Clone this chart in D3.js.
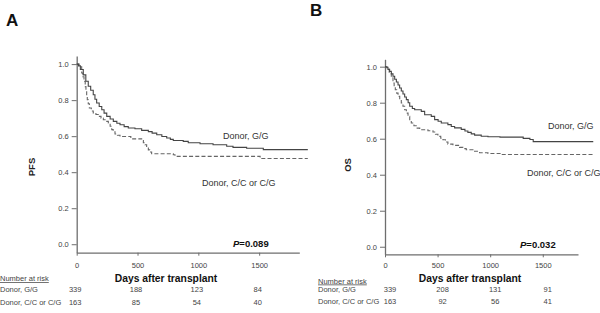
<!DOCTYPE html>
<html>
<head>
<meta charset="utf-8">
<script src="https://cdn.jsdelivr.net/npm/d3@7"></script>
<style>
  html, body { margin: 0; padding: 0; background: #fff; }
  svg { display: block; font-family: "Liberation Sans", Arial, sans-serif; }
</style>
</head>
<body>
<svg id="chart" width="600" height="313"></svg>
<script>
// ---- data (days after transplant, survival probability) ----
const xTicks = [0, 500, 1000, 1500];
const yTicks = [0, 0.2, 0.4, 0.6, 0.8, 1.0];
const groupLabels = ["Donor, G/G", "Donor, C/C or C/G"];

const pfsGG = [[0,1.0],[15,0.99],[30,0.97],[54,0.94],[75,0.905],[95,0.877],[115,0.855],[136,0.83],[150,0.805],[164,0.784],[185,0.765],[206,0.747],[225,0.728],[247,0.71],[275,0.695],[301,0.682],[330,0.672],[356,0.663],[390,0.653],[424,0.645],[479,0.641],[534,0.632],[589,0.625],[620,0.617],[658,0.608],[700,0.598],[740,0.59],[770,0.582],[794,0.576],[876,0.571],[917,0.563],[1014,0.558],[1121,0.552],[1233,0.544],[1285,0.538],[1397,0.533],[1534,0.525],[1900,0.525]];
const pfsCC = [[0,1.0],[20,0.985],[41,0.951],[50,0.93],[60,0.904],[70,0.875],[76,0.849],[82,0.825],[87,0.802],[95,0.78],[104,0.756],[120,0.74],[136,0.729],[158,0.72],[178,0.71],[200,0.70],[219,0.691],[240,0.682],[260,0.673],[275,0.655],[288,0.636],[300,0.624],[315,0.612],[335,0.605],[356,0.598],[445,0.585],[534,0.576],[548,0.563],[561,0.552],[575,0.538],[589,0.524],[600,0.512],[616,0.502],[794,0.497],[808,0.488],[1508,0.476],[1900,0.476]];
const osGG = [[0,1.0],[12,0.997],[28,0.985],[44,0.974],[60,0.96],[76,0.947],[92,0.93],[108,0.915],[124,0.898],[139,0.882],[155,0.865],[171,0.848],[187,0.832],[203,0.817],[220,0.80],[235,0.78],[260,0.768],[282,0.761],[345,0.752],[377,0.733],[440,0.724],[472,0.706],[505,0.697],[535,0.687],[598,0.678],[630,0.668],[662,0.66],[725,0.652],[760,0.643],[788,0.635],[820,0.627],[852,0.62],[915,0.614],[979,0.611],[1093,0.609],[1314,0.602],[1378,0.596],[1409,0.584],[1980,0.584]];
const osCC = [[0,1.0],[20,0.985],[40,0.965],[60,0.947],[76,0.909],[87,0.89],[98,0.872],[111,0.853],[124,0.835],[140,0.816],[155,0.798],[171,0.78],[187,0.761],[203,0.742],[219,0.724],[235,0.705],[250,0.687],[275,0.672],[297,0.659],[330,0.65],[408,0.644],[456,0.637],[480,0.625],[503,0.613],[530,0.603],[551,0.594],[575,0.582],[598,0.57],[646,0.563],[709,0.552],[740,0.545],[772,0.539],[836,0.53],[899,0.522],[979,0.518],[1109,0.512],[1980,0.512]];

const riskGG_A = [339, 188, 123, 84];
const riskCC_A = [163, 85, 54, 40];
const riskGG_B = [339, 208, 131, 91];
const riskCC_B = [163, 92, 56, 41];

// ---- drawing ----
const svg = d3.select("#chart");

function panel(o) {
  const g = svg.append("g");
  const x = d3.scaleLinear().domain([0, o.xMax]).range([o.x0, o.x1]);
  const y = d3.scaleLinear().domain([o.yMin, o.yMax]).range([o.yBottom, o.yTop]);

  // y axis
  const ya = g.append("g").attr("transform", `translate(${o.x0},0)`)
    .call(d3.axisLeft(y).tickValues(yTicks).tickFormat(d3.format(".1f")).tickSize(5).tickPadding(3).tickSizeOuter(0));
  // x axis
  const xa = g.append("g").attr("transform", `translate(0,${o.yBottom})`)
    .call(d3.axisBottom(x).tickValues(xTicks).tickFormat(d3.format("d")).tickSize(3).tickPadding(o.xPad).tickSizeOuter(0));
  [ya, xa].forEach(a => {
    a.select(".domain").attr("stroke", "#6e6e6e").attr("stroke-width", 1.3);
    a.selectAll(".tick line").attr("stroke", "#6e6e6e");
    a.selectAll(".tick text").attr("fill", "#444").style("font-size", "7.5px");
  });

  const line = d3.line().x(d => x(d[0])).y(d => y(d[1])).curve(d3.curveStepAfter);
  g.append("path").datum(o.cc).attr("d", line).attr("fill", "none")
    .attr("stroke", "#666").attr("stroke-width", 1.1).attr("stroke-dasharray", "4,2.2");
  g.append("path").datum(o.gg).attr("d", line).attr("fill", "none")
    .attr("stroke", "#444").attr("stroke-width", 1.1);

  // panel letter
  g.append("text").attr("x", o.letterX).attr("y", o.letterY).text(o.letter)
    .attr("font-weight", "bold").style("font-size", "17px").attr("fill", "#111");

  // y title
  g.append("text").attr("transform", `translate(${o.yTitleX},${o.yTitleY}) rotate(-90)`)
    .attr("text-anchor", "middle").attr("dominant-baseline", "central")
    .attr("font-weight", "bold").style("font-size", "9.5px").attr("fill", "#222").text(o.yTitle);

  // x title
  g.append("text").attr("x", o.xTitleX).attr("y", o.xTitleY).attr("text-anchor", "middle")
    .attr("font-weight", "bold").style("font-size", "10.3px").attr("fill", "#111").text("Days after transplant");

  // curve labels
  g.append("text").attr("x", o.lab1[0]).attr("y", o.lab1[1]).style("font-size", "9px").attr("fill", "#333").text(groupLabels[0]);
  g.append("text").attr("x", o.lab2[0]).attr("y", o.lab2[1]).style("font-size", "9px").attr("fill", "#333").text(groupLabels[1]);

  // p value
  const p = g.append("text").attr("x", o.pPos[0]).attr("y", o.pPos[1])
    .attr("font-weight", "bold").style("font-size", "9.5px").attr("fill", "#111");
  p.append("tspan").attr("font-style", "italic").text("P");
  p.append("tspan").text("=" + o.pVal);

  // number at risk
  g.append("text").attr("x", o.riskX).attr("y", o.riskY[0]).style("font-size", "7.5px")
    .attr("fill", "#444").attr("text-decoration", "underline").text("Number at risk");
  g.append("text").attr("x", o.riskX).attr("y", o.riskY[1]).style("font-size", "7.5px").attr("fill", "#444").text(groupLabels[0]);
  g.append("text").attr("x", o.riskX).attr("y", o.riskY[2]).style("font-size", "7.5px").attr("fill", "#444").text(groupLabels[1]);
  [[o.r1, o.riskY[1]], [o.r2, o.riskY[2]]].forEach(([arr, yy]) => {
    g.selectAll(null).data(arr).enter().append("text")
      .attr("x", (d, i) => x(xTicks[i]) + o.riskOff).attr("y", yy)
      .attr("text-anchor", "middle").style("font-size", "7.5px").attr("fill", "#444").text(d => d);
  });
}

panel({
  letter: "A", letterX: 6, letterY: 26,
  x0: 76.7, x1: 299.3, xMax: 1830,
  yTop: 56, yBottom: 252.7, yMin: -0.047, yMax: 1.045,
  xPad: 6.5, gg: pfsGG, cc: pfsCC,
  yTitle: "PFS", yTitleX: 31, yTitleY: 167,
  xTitleX: 166, xTitleY: 281.5,
  lab1: [223, 139], lab2: [202, 186],
  pPos: [233, 246.5], pVal: "0.089",
  riskX: 0, riskY: [281, 292, 304.5], r1: riskGG_A, r2: riskCC_A, riskOff: -1.5
});

panel({
  letter: "B", letterX: 310, letterY: 16,
  x0: 385, x1: 578, xMax: 1835,
  yTop: 59.3, yBottom: 254.3, yMin: -0.042, yMax: 1.041,
  xPad: 5.5, gg: osGG, cc: osCC,
  yTitle: "OS", yTitleX: 347, yTitleY: 165,
  xTitleX: 470, xTitleY: 282,
  lab1: [548, 129], lab2: [527, 176],
  pPos: [520, 248], pVal: "0.032",
  riskX: 318, riskY: [283.5, 292, 303.5], r1: riskGG_B, r2: riskCC_B, riskOff: 5
});
</script>
</body>
</html>
